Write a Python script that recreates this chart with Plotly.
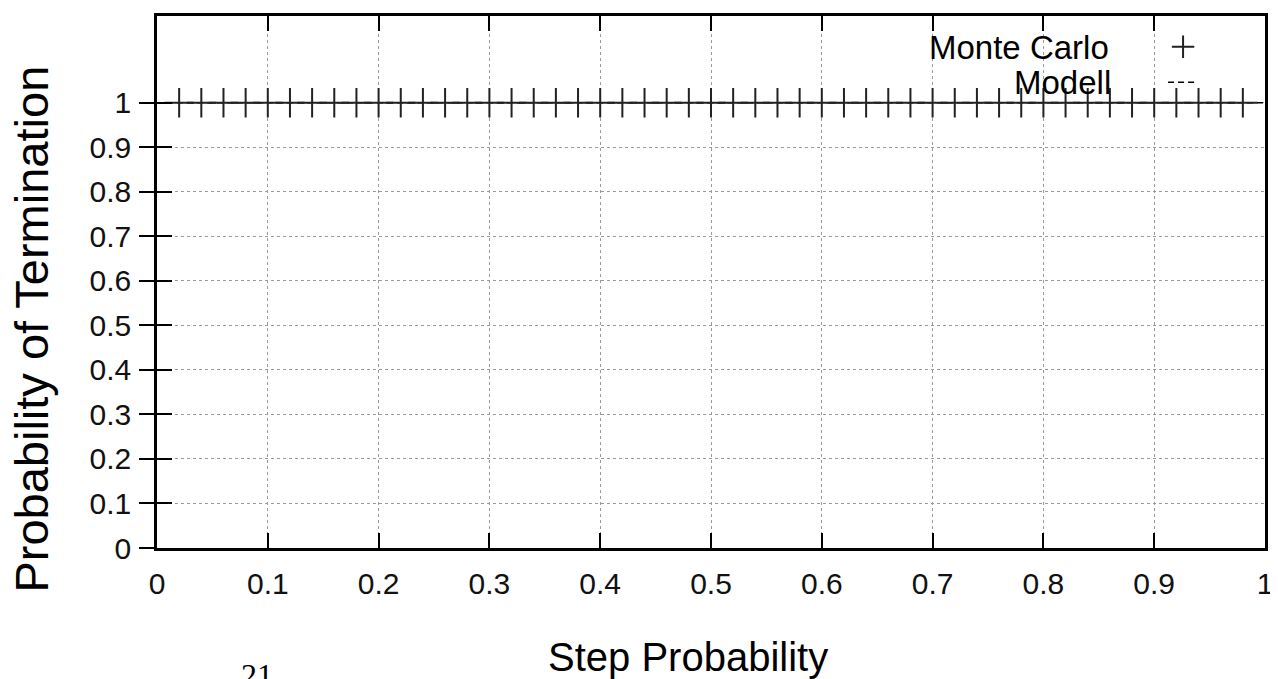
import plotly.graph_objects as go

# ---- data ----
mc_x = [0.02, 0.04, 0.06, 0.08, 0.10, 0.12, 0.14, 0.16, 0.18, 0.20,
        0.22, 0.24, 0.26, 0.28, 0.30, 0.32, 0.34, 0.36, 0.38, 0.40,
        0.42, 0.44, 0.46, 0.48, 0.50, 0.52, 0.54, 0.56, 0.58, 0.60,
        0.62, 0.64, 0.66, 0.68, 0.70, 0.72, 0.74, 0.76, 0.78, 0.80,
        0.82, 0.84, 0.86, 0.88, 0.90, 0.92, 0.94, 0.96, 0.98]
mc_y = [1, 1, 1, 1, 1, 1, 1, 1, 1, 1,
        1, 1, 1, 1, 1, 1, 1, 1, 1, 1,
        1, 1, 1, 1, 1, 1, 1, 1, 1, 1,
        1, 1, 1, 1, 1, 1, 1, 1, 1, 1,
        1, 1, 1, 1, 1, 1, 1, 1, 1]
model_x = [0.0, 0.1, 0.2, 0.3, 0.4, 0.5, 0.6, 0.7, 0.8, 0.9, 1.0]
model_y = [1, 1, 1, 1, 1, 1, 1, 1, 1, 1, 1]

x_ticks = [0, 0.1, 0.2, 0.3, 0.4, 0.5, 0.6, 0.7, 0.8, 0.9, 1]
x_ticklabels = ["0", "0.1", "0.2", "0.3", "0.4", "0.5", "0.6", "0.7", "0.8", "0.9", "1"]
y_ticks = [0, 0.1, 0.2, 0.3, 0.4, 0.5, 0.6, 0.7, 0.8, 0.9, 1]
y_ticklabels = ["0", "0.1", "0.2", "0.3", "0.4", "0.5", "0.6", "0.7", "0.8", "0.9", "1"]

series_names = ["Monte Carlo", "Modell"]
x_title = "Step Probability"
y_title = "Probability of Termination"
page_number = "21"

SANS = "Liberation Sans, Arial, sans-serif"
Y_MAX = 1.195

fig = go.Figure()
fig.add_trace(go.Scatter(
    x=model_x, y=model_y, mode="lines", name=" ",
    line=dict(color="black", width=1.5, dash="6px,4px"),
    legendrank=2,
))
fig.add_trace(go.Scatter(
    x=mc_x, y=mc_y, mode="markers", name=" ",
    marker=dict(symbol="cross-thin", size=21, color="black",
                line=dict(color="#222", width=2)),
    legendrank=1,
))
# empty trace only to activate the inner tick axis
fig.add_trace(go.Scatter(x=[], y=[], yaxis="y2", showlegend=False,
                         hoverinfo="skip"))

fig.update_layout(
    width=1270, height=671,
    margin=dict(l=149, r=10, t=5, b=131),
    paper_bgcolor="white", plot_bgcolor="white",
    font=dict(family=SANS, color="black"),
    showlegend=True,
    legend=dict(x=0.908, y=0.985, xanchor="left", yanchor="top",
                bgcolor="rgba(0,0,0,0)", font=dict(size=25),
                tracegroupgap=0),
    xaxis=dict(
        range=[0, 1], tickvals=x_ticks, ticktext=x_ticklabels,
        ticks="inside", ticklen=15, tickwidth=2, tickcolor="black",
        showline=True, linecolor="black", linewidth=2.5, mirror="ticks",
        showgrid=True, gridcolor="#9a9a9a", gridwidth=1.2, griddash="dot",
        zeroline=False, ticklabelstandoff=7,
        tickfont=dict(size=30, family=SANS, color="#111"),
    ),
    yaxis=dict(
        range=[0, Y_MAX], tickvals=y_ticks, ticktext=y_ticklabels,
        ticks="outside", ticklen=15, tickwidth=2, tickcolor="black",
        showline=True, linecolor="black", linewidth=2.5, mirror=True,
        showgrid=True, gridcolor="#9a9a9a", gridwidth=1.2, griddash="dot",
        zeroline=False, ticklabelstandoff=2,
        tickfont=dict(size=30, family=SANS, color="#111"),
    ),
    yaxis2=dict(
        range=[0, Y_MAX], tickvals=y_ticks, overlaying="y", side="left",
        ticks="inside", ticklen=15, tickwidth=2, tickcolor="black",
        showticklabels=False, showgrid=False, zeroline=False, showline=False,
    ),
)

annotations = [
    dict(text=x_title, xref="paper", yref="paper", x=(689 - 157) / 1111,
         y=(548 - 658) / 535, xanchor="center", yanchor="middle",
         showarrow=False, font=dict(size=40, family=SANS)),
    dict(text=y_title, xref="paper", yref="paper", x=(31 - 157) / 1111,
         y=(548 - 328) / 535, xanchor="center", yanchor="middle",
         textangle=-90, showarrow=False, font=dict(size=47, family=SANS)),
    dict(text=series_names[0], xref="paper", yref="paper",
         x=(1114 - 157) / 1111, y=(548 - 45) / 535, xanchor="right",
         yanchor="middle", showarrow=False, font=dict(size=33, family=SANS)),
    dict(text=series_names[1], xref="paper", yref="paper",
         x=(1116 - 157) / 1111, y=(548 - 80) / 535, xanchor="right",
         yanchor="middle", showarrow=False, font=dict(size=33, family=SANS)),
    dict(text=page_number, xref="paper", yref="paper",
         x=(257 - 157) / 1111, y=(548 - 656) / 535, xanchor="center",
         yanchor="top", showarrow=False,
         font=dict(size=32, family="Liberation Serif, Times New Roman, serif")),
]
fig.update_layout(annotations=annotations)

fig.write_html("out.html")
